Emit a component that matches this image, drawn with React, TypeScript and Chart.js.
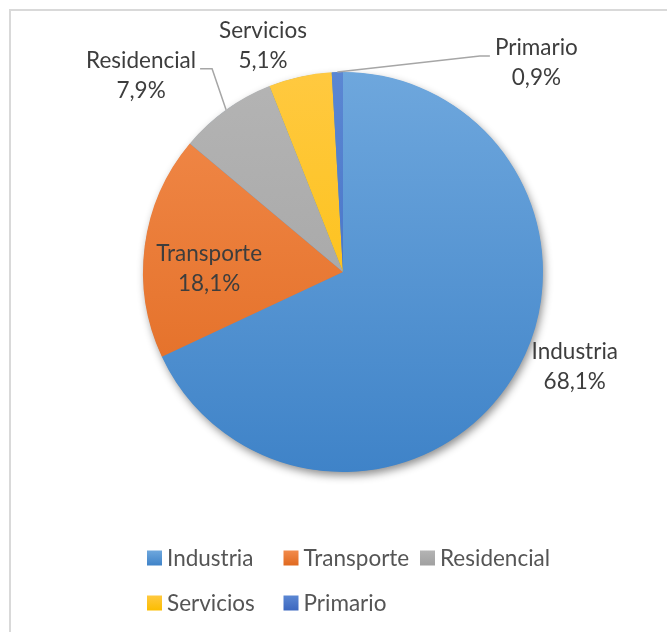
import React, { useEffect, useRef } from "react";
import { Chart, registerables } from "chart.js";

Chart.register(...registerables);

const categories = ["Industria", "Transporte", "Residencial", "Servicios", "Primario"];
const shares = [68.1, 18.1, 7.9, 5.1, 0.9];
const percentLabels = ["68,1%", "18,1%", "7,9%", "5,1%", "0,9%"];
const lightColors = ["#6ea7dd", "#f28b4c", "#b4b4b4", "#ffc940", "#5b87d3"];
const darkColors = ["#3f83c8", "#e0691f", "#a0a0a0", "#fbbd00", "#3c67bf"];

// label layout relative to each slice's mid-angle point
const labelLayout = [
  { radial: 1, dx: 63, dy: -13, leader: "" },
  { radial: 0.67, dx: -1, dy: 14, leader: "" },
  { radial: 1, dx: -85, dy: -34, leader: "left" },
  { radial: 1, dx: -37, dy: -31, leader: "" },
  { radial: 1, dx: 199, dy: -9, leader: "right" },
];

const FONT = "22.5px Lato";
const LABEL_COLOR = "#3d3d3d";
const LEGEND_COLOR = "#555555";

function makeGradient(ctx: CanvasRenderingContext2D, y0: number, y1: number, i: number) {
  const g = ctx.createLinearGradient(0, y0, 0, y1);
  g.addColorStop(0, lightColors[i]);
  g.addColorStop(1, darkColors[i]);
  return g;
}

const framePlugin = {
  id: "frame",
  beforeDraw(chart: any) {
    const ctx = chart.ctx;
    ctx.save();
    ctx.fillStyle = "#ffffff";
    ctx.fillRect(0, 0, chart.width, chart.height);
    ctx.strokeStyle = "#d9d9d9";
    ctx.lineWidth = 2;
    ctx.strokeRect(10, 10, chart.width + 20, chart.height + 20);
    ctx.restore();
  },
};

const shadowPlugin = {
  id: "pieShadow",
  beforeDatasetsDraw(chart: any) {
    const meta = chart.getDatasetMeta(0);
    const arc = meta.data[0];
    if (!arc) return;
    const { x, y, outerRadius } = arc.getProps(["x", "y", "outerRadius"], true);
    const ctx = chart.ctx;
    ctx.save();
    ctx.shadowColor = "rgba(0,0,0,0.45)";
    ctx.shadowBlur = 9;
    ctx.shadowOffsetX = 2;
    ctx.shadowOffsetY = 4;
    ctx.fillStyle = "#4a8ccc";
    ctx.beginPath();
    ctx.arc(x, y, outerRadius - 0.5, 0, Math.PI * 2);
    ctx.fill();
    ctx.restore();
  },
};

const labelPlugin = {
  id: "sliceLabels",
  afterDatasetsDraw(chart: any) {
    const ctx = chart.ctx;
    const meta = chart.getDatasetMeta(0);
    ctx.save();
    ctx.font = FONT;
    ctx.textAlign = "center";
    ctx.textBaseline = "middle";
    meta.data.forEach((arc: any, i: number) => {
      const { x, y, startAngle, endAngle, outerRadius } = arc.getProps(
        ["x", "y", "startAngle", "endAngle", "outerRadius"],
        true
      );
      const mid = (startAngle + endAngle) / 2;
      const lay = labelLayout[i];
      const ax = x + Math.cos(mid) * outerRadius * lay.radial;
      const ay = y + Math.sin(mid) * outerRadius * lay.radial;
      const cx = ax + lay.dx;
      const cy = ay + lay.dy;
      const nameW = ctx.measureText(categories[i]).width;
      if (lay.leader) {
        const ly = cy - 7;
        let endX: number, cornerX: number;
        if (lay.leader === "left") {
          endX = cx + nameW / 2 + 4;
          cornerX = endX + 12;
        } else {
          endX = cx - nameW / 2 - 5;
          cornerX = endX - 10;
        }
        ctx.strokeStyle = "#a6a6a6";
        ctx.lineWidth = 1.5;
        ctx.beginPath();
        ctx.moveTo(ax, ay);
        ctx.lineTo(cornerX, ly);
        ctx.lineTo(endX, ly);
        ctx.stroke();
      }
      ctx.fillStyle = LABEL_COLOR;
      ctx.fillText(categories[i], cx, cy - 15);
      ctx.fillText(percentLabels[i], cx, cy + 15);
    });
    ctx.restore();
  },
};

const legendPlugin = {
  id: "gridLegend",
  afterDraw(chart: any) {
    const ctx = chart.ctx;
    const startX = 147;
    const colW = 136.5;
    const rowY = [558, 603];
    const box = 15;
    ctx.save();
    ctx.font = FONT;
    ctx.textAlign = "left";
    ctx.textBaseline = "middle";
    categories.forEach((name, i) => {
      const col = i % 3;
      const row = Math.floor(i / 3);
      const bx = startX + col * colW;
      const by = rowY[row];
      ctx.fillStyle = makeGradient(ctx, by - box / 2, by + box / 2, i);
      ctx.fillRect(bx, by - box / 2, box, box);
      ctx.fillStyle = LEGEND_COLOR;
      ctx.fillText(name, bx + box + 5, by + 1);
    });
    ctx.restore();
  },
};

export default function App() {
  const ref = useRef<HTMLCanvasElement | null>(null);
  useEffect(() => {
    if (!ref.current) return;
    const chart = new Chart(ref.current, {
      type: "pie",
      data: {
        labels: categories,
        datasets: [
          {
            data: shares,
            backgroundColor: (c: any) => {
              const area = c.chart.chartArea;
              if (!area) return lightColors[c.dataIndex];
              return makeGradient(c.chart.ctx, area.top, area.bottom, c.dataIndex);
            },
            borderWidth: 0,
            hoverOffset: 0,
            offset: 0,
          },
        ],
      },
      options: {
        responsive: false,
        animation: false,
        layout: { padding: { left: 143, right: 124, top: 72, bottom: 160 } },
        plugins: {
          legend: { display: false },
          tooltip: { enabled: false },
        },
        events: [],
      },
      plugins: [framePlugin, shadowPlugin, labelPlugin, legendPlugin],
    });
    return () => chart.destroy();
  }, []);
  return (
    <div style={{ position: "fixed", left: 0, top: 0, width: 667, height: 632 }}>
      <canvas ref={ref} width={667} height={632} style={{ display: "block" }} />
    </div>
  );
}
